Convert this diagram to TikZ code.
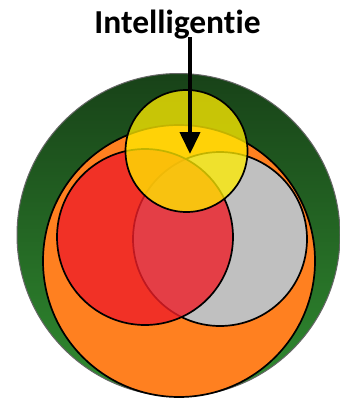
\documentclass[tikz,border=0pt]{standalone}
\usepackage{fontspec}
\setmainfont{Carlito}[Ligatures=NoCommon]
\usetikzlibrary{arrows.meta}
\definecolor{gtop}{RGB}{24,66,24}
\definecolor{gbot}{RGB}{48,140,48}
\definecolor{orng}{RGB}{255,128,32}
\definecolor{gry}{RGB}{192,192,192}
\definecolor{rd}{RGB}{238,30,40}
\definecolor{ylw}{RGB}{255,236,0}
\tikzset{
  ring/.style={draw=black, line width=1.7pt},
}
\begin{document}
\begin{tikzpicture}[x=1pt,y=-1pt]
\useasboundingbox (0,0) rectangle (340,399);
% green outer circle
\shade[top color=gtop, bottom color=gbot, draw=black!60, line width=1pt]
  (178.5,235) circle[radius=161.5];
\node[circle, minimum size=323pt, inner sep=0pt] (green) at (178.5,235) {};
% orange
\node[circle, ring, fill=orng, minimum size=272pt, inner sep=0pt] (orange) at (179,261) {};
% gray
\node[circle, ring, fill=gry, minimum size=174pt, inner sep=0pt] (gray) at (220,239) {};
% red
\node[circle, ring, fill=rd, fill opacity=0.8, draw opacity=1, minimum size=176pt, inner sep=0pt] (red) at (145,237) {};
% yellow
\node[circle, ring, fill=ylw, fill opacity=0.76, draw opacity=1, minimum size=122pt, inner sep=0pt] (yellow) at (186.5,151) {};
% label
\node[font=\bfseries\fontsize{33.5}{33.5}\selectfont, inner sep=0pt, anchor=base] (lab) at (177.5,33.5) {Intelligentie};
\coordinate (tip) at (190,154);
\draw[line width=4pt, -{Triangle[length=22pt,width=20pt]}] (190,37) -- (tip);
\end{tikzpicture}
\end{document}
